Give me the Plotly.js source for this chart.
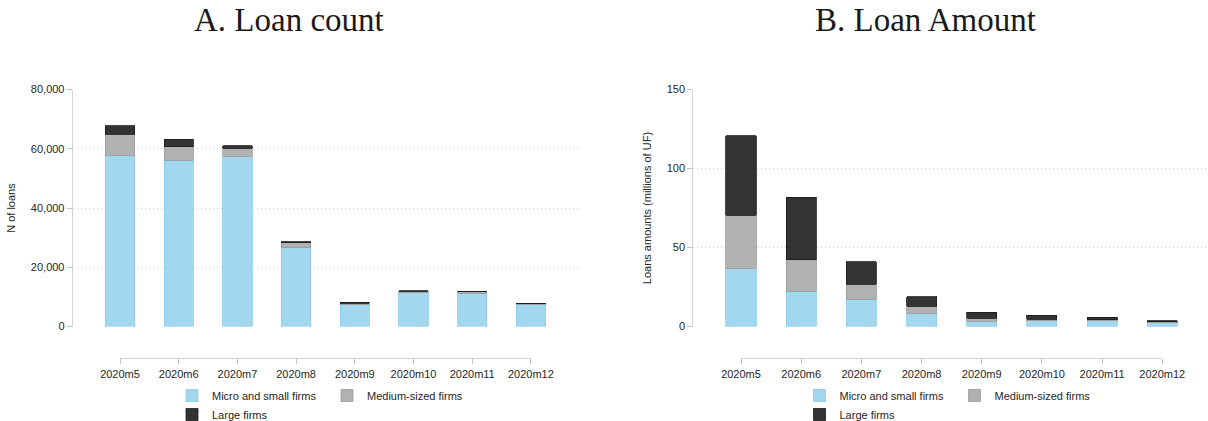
<!DOCTYPE html>
<html>
<head>
<meta charset="utf-8">
<script src="https://cdn.plot.ly/plotly-3.0.1.min.js"></script>
<style>
  html, body { margin: 0; padding: 0; background: #ffffff; }
  #chart { width: 1208px; height: 421px; }
</style>
</head>
<body>
<div id="chart"></div>
<script>
// Months of the programme
const months = ['2020m5', '2020m6', '2020m7', '2020m8', '2020m9', '2020m10', '2020m11', '2020m12'];

// Panel A: number of loans by firm size
const countMicro  = [57850, 56100, 57500, 26850, 7300, 11400, 11300, 7500];
const countMedium = [7100, 4550, 2600, 1450, 650, 450, 450, 300];
const countLarge  = [2900, 2500, 1000, 250, 250, 200, 150, 100];

// Panel B: loan amounts by firm size (millions of UF)
const amtMicro  = [37.0, 22.5, 17.3, 8.6, 3.4, 3.8, 3.7, 2.5];
const amtMedium = [33.4, 19.8, 9.5, 4.3, 2.0, 0.9, 0.7, 0.5];
const amtLarge  = [50.4, 39.4, 14.1, 6.0, 3.8, 2.4, 1.6, 0.8];

// Series names
const seriesNames = ['Micro and small firms', 'Medium-sized firms', 'Large firms'];

// Panel titles and axis titles
const panelTitles = ['A. Loan count', 'B. Loan Amount'];
const yTitles = ['N of loans', 'Loans amounts (millions of UF)'];

const W = 1208, H = 421;
const px = v => v / W;          // horizontal pixel -> paper
const py = v => (H - v) / H;    // vertical pixel -> paper

const fills = ['#a2d7ef', '#b1b1b1', '#333333'];
const edges = ['#8ccbe8', '#9a9a9a', '#1a1a1a'];
const groups = ['col1', 'col2', 'col1'];
// width reserved for each legend column's label
const legendWidths = [110, undefined, 110];

const tickFont = { family: 'Liberation Sans, Arial, sans-serif', size: 11, color: '#262626' };

function barTrace(x, y, i, xa, ya, leg) {
  const t = {
    type: 'bar', x: x, y: y, name: seriesNames[i],
    xaxis: xa, yaxis: ya, legend: leg, legendgroup: groups[i] + leg,
    width: 0.5,
    marker: { color: fills[i], line: { color: edges[i], width: 0.8 } },
    hoverinfo: 'x+y+name'
  };
  if (legendWidths[i]) t.legendwidth = legendWidths[i];
  return t;
}

const data = [
  barTrace(months, countMicro, 0, 'x', 'y', 'legend'),
  barTrace(months, countMedium, 1, 'x', 'y', 'legend'),
  barTrace(months, countLarge, 2, 'x', 'y', 'legend'),
  barTrace(months, amtMicro, 0, 'x2', 'y2', 'legend2'),
  barTrace(months, amtMedium, 1, 'x2', 'y2', 'legend2'),
  barTrace(months, amtLarge, 2, 'x2', 'y2', 'legend2'),
  // month axes drawn beneath each panel
  { type: 'scatter', mode: 'none', x: months, y: countMicro, xaxis: 'x3', yaxis: 'y3', showlegend: false, hoverinfo: 'skip' },
  { type: 'scatter', mode: 'none', x: months, y: amtMicro, xaxis: 'x4', yaxis: 'y4', showlegend: false, hoverinfo: 'skip' }
];

const plotBottom = py(326.6), plotTop = py(89.5);

function yAxis(anchor, range, dtick, title, fmt, standoff) {
  return {
    anchor: anchor, domain: [plotBottom, plotTop], range: range, dtick: dtick,
    tickformat: fmt, tickfont: tickFont,
    ticks: 'outside', ticklen: 5, tickcolor: '#c4c4c4', tickwidth: 1,
    showline: true, linecolor: '#d4d4d4', linewidth: 1,
    showgrid: true, gridcolor: '#cfcfcf', gridwidth: 1, griddash: '1px,3px',
    zeroline: false, fixedrange: true,
    title: { text: title, font: { family: 'Liberation Sans, Arial, sans-serif', size: 11, color: '#262626' }, standoff: standoff }
  };
}

function monthAxis(d0, d1) {
  return {
    type: 'category', domain: [px(d0), px(d1)], range: [0, 7],
    anchor: 'free', position: py(358.3),
    showline: true, linecolor: '#d0d0d0', linewidth: 1,
    ticks: 'outside', ticklen: 5, tickcolor: '#c4c4c4', tickwidth: 1,
    tickfont: tickFont, showgrid: false, zeroline: false, fixedrange: true
  };
}

function hiddenY(anchor) {
  return { anchor: anchor, visible: false, domain: [plotBottom, plotTop], fixedrange: true };
}

function legendAt(xpx, ypx) {
  return {
    orientation: 'h', traceorder: 'grouped', x: px(xpx), y: py(ypx),
    xanchor: 'left', yanchor: 'top', bgcolor: 'rgba(0,0,0,0)',
    font: { family: 'Liberation Sans, Arial, sans-serif', size: 11, color: '#262626' },
    tracegroupgap: 0, itemclick: false, itemdoubleclick: false
  };
}

const titleFont = { family: 'Liberation Serif, Times New Roman, serif', size: 33, color: '#1a1a1a' };

const layout = {
  width: W, height: H,
  margin: { l: 0, r: 0, t: 0, b: 0, autoexpand: false },
  paper_bgcolor: '#ffffff', plot_bgcolor: 'rgba(0,0,0,0)',
  barmode: 'stack', bargap: 0.5,
  showlegend: true,
  xaxis:  { domain: [px(72.7), px(578.3)], range: [-0.806, 7.807], anchor: 'y', visible: false, fixedrange: true },
  yaxis:  yAxis('x', [0, 80000], 20000, yTitles[0], ',d', 12),
  xaxis2: { domain: [px(693.3), 1], range: [-0.7925, 7.759], anchor: 'y2', visible: false, fixedrange: true },
  yaxis2: yAxis('x2', [0, 150], 50, yTitles[1], 'd', 12),
  xaxis3: monthAxis(120, 530.9),
  yaxis3: hiddenY('x3'),
  xaxis4: monthAxis(741, 1162.3),
  yaxis4: hiddenY('x4'),
  legend: legendAt(172, 381),
  legend2: legendAt(799.5, 381),
  annotations: [
    { text: panelTitles[0], xref: 'paper', yref: 'paper', x: px(288.5), y: py(20), xanchor: 'center', yanchor: 'middle', showarrow: false, font: titleFont },
    { text: panelTitles[1], xref: 'paper', yref: 'paper', x: px(925), y: py(20), xanchor: 'center', yanchor: 'middle', showarrow: false, font: titleFont }
  ]
};

Plotly.newPlot('chart', data, layout, { displayModeBar: false, responsive: false });
</script>
</body>
</html>
